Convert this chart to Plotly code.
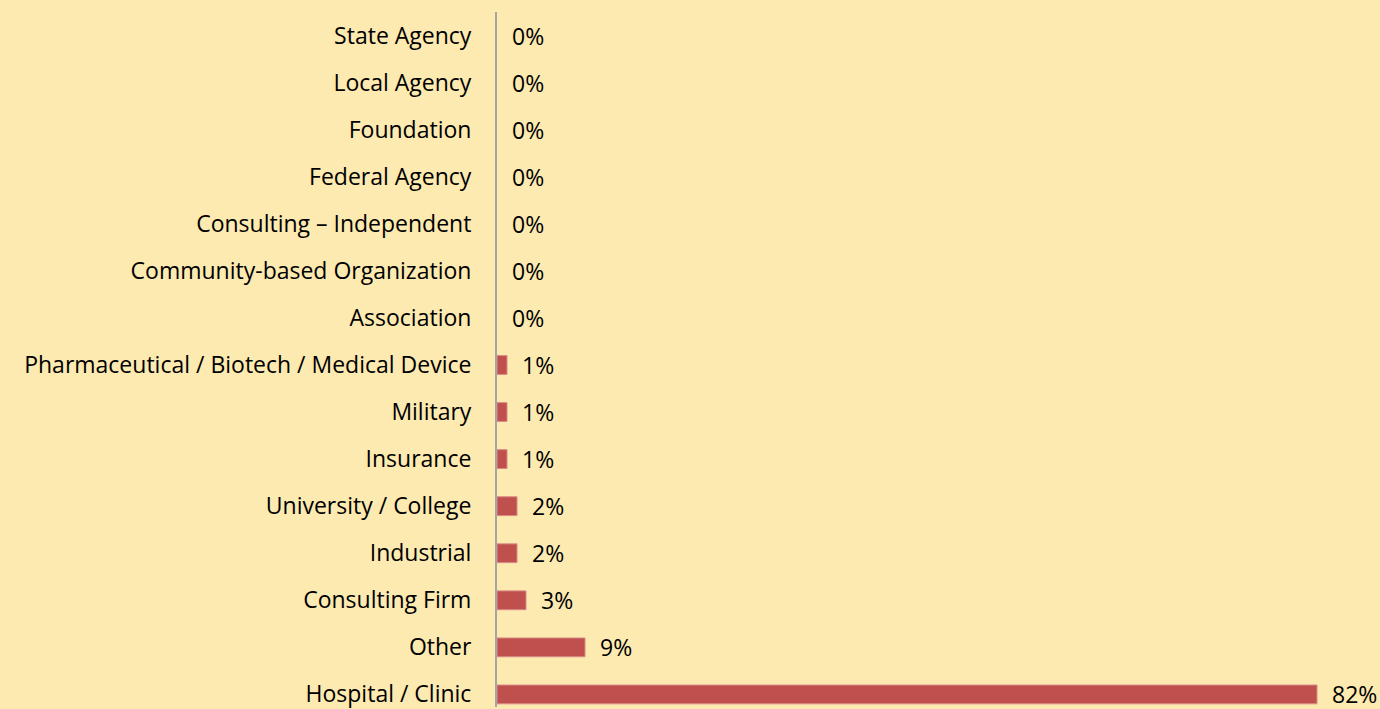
import plotly.graph_objects as go

categories = [
    "Hospital / Clinic", "Other", "Consulting Firm", "Industrial",
    "University / College", "Insurance", "Military",
    "Pharmaceutical / Biotech / Medical Device", "Association",
    "Community-based Organization", "Consulting – Independent",
    "Federal Agency", "Foundation", "Local Agency", "State Agency",
]
values = [82.0, 8.8, 2.9, 2.0, 2.0, 1.0, 1.0, 1.0, 0, 0, 0, 0, 0, 0, 0]
labels = ["82%", "9%", "3%", "2%", "2%", "1%", "1%", "1%",
          "0%", "0%", "0%", "0%", "0%", "0%", "0%"]

BG = "#FDEAB0"
FONT = "Open Sans"
FS = 23

fig = go.Figure()
fig.add_trace(go.Bar(
    x=values, y=categories, orientation="h",
    marker=dict(color="#C0504D",
                line=dict(color="#D98B88",
                          width=[1 if v > 0 else 0 for v in values])),
    width=0.4,
))
for v, c, t in zip(values, categories, labels):
    fig.add_annotation(x=v, y=c, text=t, showarrow=False, xanchor="left",
                       xshift=13, yshift=0,
                       font=dict(family=FONT, size=FS, color="#000"))

fig.update_layout(
    width=1380, height=709,
    paper_bgcolor=BG, plot_bgcolor=BG,
    margin=dict(l=497, r=3, t=12, b=0),
    showlegend=False,
    font=dict(family=FONT, size=FS, color="#000"),
    xaxis=dict(range=[0, 88], showgrid=False, zeroline=False,
               showticklabels=False, showline=False),
    yaxis=dict(range=[-0.267, 14.5], showgrid=False, zeroline=False,
               showline=True, linecolor="#A6A6A6", linewidth=2,
               ticks="", ticklabelstandoff=19,
               tickfont=dict(family=FONT, size=FS, color="#000")),
)
fig.write_html("out.html")
